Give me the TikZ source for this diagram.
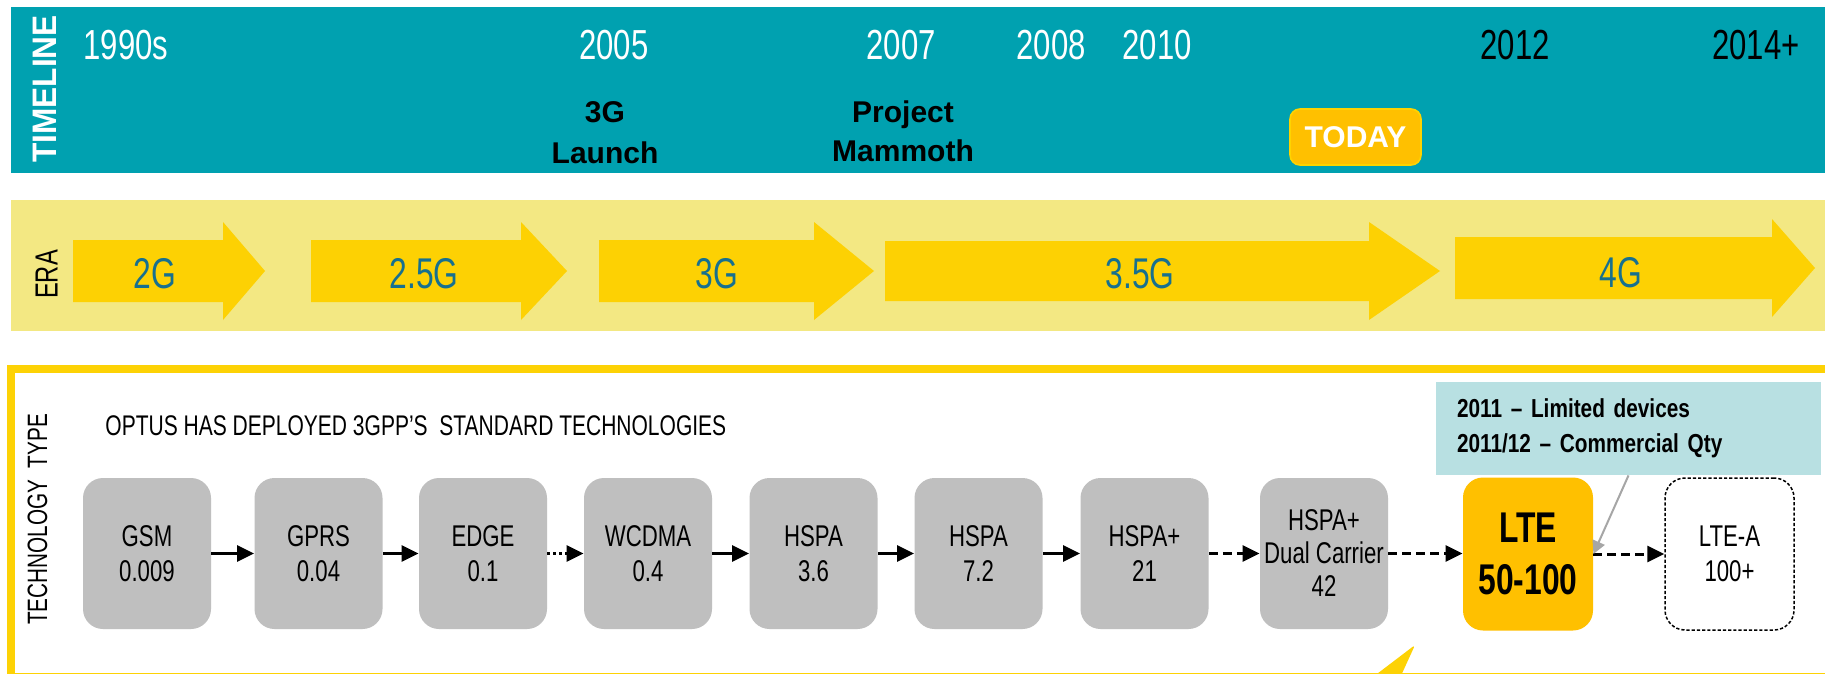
\documentclass[tikz,border=0pt]{standalone}
\usepackage{fontspec}
\setmainfont{Liberation Sans}
\newfontfamily\nar[FakeStretch=0.74]{Liberation Sans}
\newfontfamily\narc[FakeStretch=0.8]{Liberation Sans}
\newfontfamily\wid[FakeStretch=0.93]{Liberation Sans}
\usetikzlibrary{arrows.meta}
\definecolor{tealbg}{HTML}{00A1B0}
\definecolor{erabg}{HTML}{F3E883}
\definecolor{arrowyel}{HTML}{FDD103}
\definecolor{eratext}{HTML}{17708F}
\definecolor{boxgrey}{HTML}{BFBFBF}
\definecolor{ltegold}{HTML}{FFC000}
\definecolor{callbg}{HTML}{B8E0E2}
\definecolor{frameyel}{HTML}{FDD205}
\definecolor{callline}{HTML}{A6A6A6}
\begin{document}
\begin{tikzpicture}[x=0.5pt,y=-0.5pt,
  year/.style={font=\nar\fontsize{21}{21}\selectfont,text=white,anchor=base,inner sep=0pt},
  yearb/.style={year,text=black},
  evt/.style={font=\bfseries\fontsize{15}{15}\selectfont,anchor=base,inner sep=0pt},
  eralbl/.style={font=\nar\fontsize{21.5}{21.5}\selectfont,text=eratext,anchor=base,inner sep=0pt},
  tbox/.style={rounded corners=10pt,minimum width=64pt,minimum height=75.5pt,inner sep=0pt,align=center,font=\nar\fontsize{15}{17.5}\selectfont},
  gbox/.style={tbox,fill=boxgrey},
  conn/.style={line width=1.5pt,-{Triangle[length=8.5pt,width=8pt]}},
  dashconn/.style={conn,dash pattern=on 4.5pt off 2.5pt},
  dotconn/.style={conn,dash pattern=on 1.5pt off 1.5pt},
  eraarrow/.style={fill=arrowyel},
]
\useasboundingbox (0,0) rectangle (1825,674);
% ---------- timeline band
\fill[tealbg] (11,7) rectangle (1825,173);
\node[rotate=90,font=\wid\bfseries\fontsize{17}{17}\selectfont,text=white,inner sep=0pt] (tl) at (44.5,89) {TIMELINE};
\node[year] (y1990) at (126,60) {1990s};
\node[year] (y2005) at (614,60) {2005};
\node[year] (y2007) at (901,60) {2007};
\node[year] (y2008) at (1051,60) {2008};
\node[year] (y2010) at (1157,60) {2010};
\node[yearb] (y2012) at (1515,60) {2012};
\node[yearb] (y2014) at (1756,60) {2014+};
\node[evt] (ev3g) at (605,123) {3G};
\node[evt] (evlaunch) at (605,163) {Launch};
\node[evt] (evproj) at (903,123) {Project};
\node[evt] (evmam) at (903,162) {Mammoth};
\node[fill=ltegold,draw=ltegold!70!yellow,line width=0.8pt,rounded corners=5pt,minimum width=65.5pt,minimum height=28pt,inner sep=0pt,text=white,font=\bfseries\fontsize{15}{15}\selectfont] (today) at (1355.5,137) {TODAY};
% ---------- era band
\fill[erabg] (11,200) rectangle (1825,331);
\node[rotate=90,font=\nar\fontsize{16}{16}\selectfont,inner sep=0pt] (era) at (46.5,274.5) {ERA};
\fill[eraarrow] (73,240) -- (223,240) -- (223,222) -- (265,271) -- (223,320) -- (223,302) -- (73,302) -- cycle;
\fill[eraarrow] (311,240) -- (521,240) -- (521,222) -- (567,271) -- (521,320) -- (521,302) -- (311,302) -- cycle;
\fill[eraarrow] (599,240) -- (814,240) -- (814,222) -- (874,271) -- (814,320) -- (814,302) -- (599,302) -- cycle;
\fill[eraarrow] (885,241) -- (1369,241) -- (1369,222) -- (1440,271) -- (1369,320) -- (1369,301) -- (885,301) -- cycle;
\fill[eraarrow] (1455,237) -- (1772,237) -- (1772,219) -- (1815,268) -- (1772,317) -- (1772,299) -- (1455,299) -- cycle;
\node[eralbl] (e2g) at (155,288) {2G};
\node[eralbl] (e25g) at (424,288) {2.5G};
\node[eralbl] (e3g) at (717,288) {3G};
\node[eralbl] (e35g) at (1140,288) {3.5G};
\node[eralbl] (e4g) at (1621,287) {4G};
% ---------- technology frame
\draw[frameyel,line width=4pt,fill=white] (11,369) rectangle (1840,677);
\fill[frameyel,rounded corners=1.5pt] (1369,680) -- (1415,645) -- (1399,680) -- cycle;
\node[rotate=90,font=\nar\fontsize{14}{14}\selectfont,inner sep=0pt] (techtype) at (37.5,519.5) {TECHNOLOGY~~TYPE};
\node[anchor=base west,inner sep=0pt,font=\nar\fontsize{14.2}{14.2}\selectfont] (optus) at (105,435) {OPTUS HAS DEPLOYED 3GPP’S~~STANDARD TECHNOLOGIES};
\node[gbox] (gsm) at (147,553.5) {GSM\\0.009};
\node[gbox] (gprs) at (318.5,553.5) {GPRS\\0.04};
\node[gbox] (edge) at (483,553.5) {EDGE\\0.1};
\node[gbox] (wcdma) at (648,553.5) {WCDMA\\0.4};
\node[gbox] (hspa1) at (813.5,553.5) {HSPA\\3.6};
\node[gbox] (hspa2) at (978.5,553.5) {HSPA\\7.2};
\node[gbox] (hspap) at (1144.5,553.5) {HSPA+\\21};
\node[gbox,font=\nar\fontsize{15}{16.5}\selectfont] (dual) at (1324,553.5) {HSPA+\\Dual Carrier\\42};
\node[tbox,fill=ltegold,minimum width=65pt,minimum height=76.5pt,font=\nar\bfseries\fontsize{21.5}{26}\selectfont] (lte) at (1528,554) {LTE\\50-100};
\node[tbox,fill=white,draw=black,line width=0.75pt,dash pattern=on 1.6pt off 1pt,minimum width=64.5pt,minimum height=76pt] (ltea) at (1729.5,554) {LTE-A\\100+};
\node[fill=callbg,minimum height=46.5pt,text width=171.5pt,inner xsep=10.5pt,inner ysep=0pt,align=left,font=\narc\bfseries\fontsize{13}{17.5}\selectfont] (call) at (1628.5,428.5) {2011 – Limited devices\\2011/12 – Commercial Qty};
% ---------- connectors
\draw[conn] (gsm.east) -- (gprs.west);
\draw[conn] (gprs.east) -- (edge.west);
\draw[dotconn] (edge.east) -- (wcdma.west);
\draw[conn] (wcdma.east) -- (hspa1.west);
\draw[conn] (hspa1.east) -- (hspa2.west);
\draw[conn] (hspa2.east) -- (hspap.west);
\draw[dashconn] (hspap.east) -- (dual.west);
\draw[dashconn] (dual.east) -- (lte.west |- dual.east);
\draw[dashconn] (lte.east |- ltea.west) -- (ltea.west);
\draw[callline,line width=1pt,-{Triangle[length=6.5pt,width=6.5pt]}] (call.south) -- (lte.east);
\end{tikzpicture}
\end{document}
